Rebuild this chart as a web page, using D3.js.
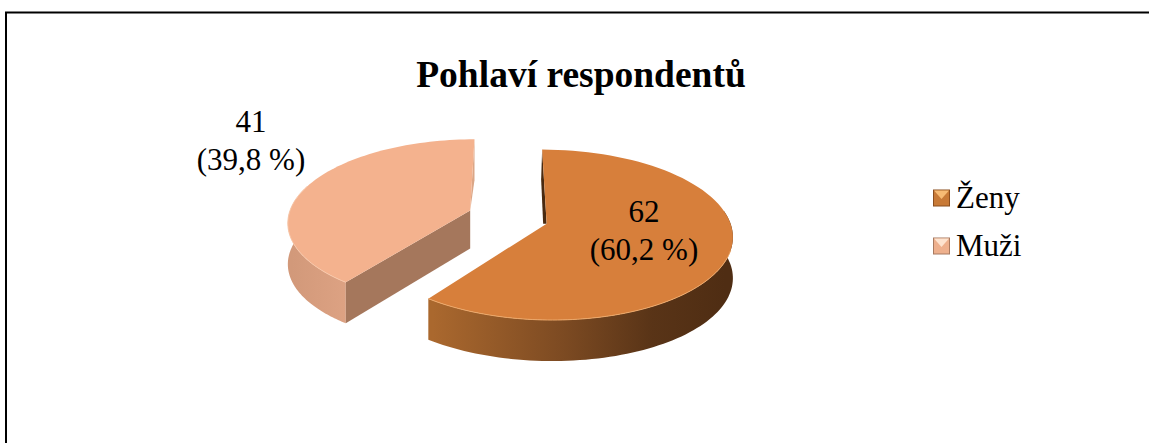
<!DOCTYPE html>
<html>
<head>
<meta charset="utf-8">
<script src="https://cdn.jsdelivr.net/npm/d3@7"></script>
<style>
    html, body { margin: 0; padding: 0; background: #fff; }
    svg { display: block; }
    text { font-family: "Liberation Serif", serif; fill: #000; }
</style>
</head>
<body>
<div id="chart"></div>
<script>
// data
var categories = ['Ženy', 'Muži'];
var counts = [62, 41];
var shares = ['60,2 %', '39,8 %'];
var chartTitle = 'Pohlaví respondentů';

// colours
var topColors = ['#d77f3b', '#f4b28e'];
var rimColors = ['#eda869', '#f9c9ab'];
var cutColors = ['#4a2a10', '#a5775c'];
var backColors = ['#4a2a10', '#dba686'];
var wallStops = [
    [['0%', '#aa682e'], ['45%', '#7c4a22'], ['75%', '#593417'], ['100%', '#4f2d13']],
    [['0%', '#d2997a'], ['100%', '#dda283']]
];
var wallRanges = [[433, 725], [292, 347]];

// layout
var width = 1149, height = 443;
var depth = 41, tilt = 0.13;
var explodeU = [0.21, -0.21], explodeV = [-0.08, 0.08];
// plane units to pixels
var xScale = d3.scaleLinear().domain([-1, 1]).range([326, 690]);
var yScale = d3.scaleLinear().domain([-1, 1]).range([299, 135]);

var svg = d3.select('#chart').append('svg')
    .attr('width', width)
    .attr('height', height);

var defs = svg.append('defs');
wallStops.forEach(function(stops, i) {
    var grad = defs.append('linearGradient')
        .attr('id', 'wall' + i)
        .attr('gradientUnits', 'userSpaceOnUse')
        .attr('x1', wallRanges[i][0]).attr('x2', wallRanges[i][1])
        .attr('y1', 0).attr('y2', 0);
    stops.forEach(function(s) {
        grad.append('stop').attr('offset', s[0]).attr('stop-color', s[1]);
    });
});

// frame, only left and top are visible
svg.append('path')
    .attr('d', 'M6,' + height + 'V12.5H' + width)
    .attr('fill', 'none')
    .attr('stroke', '#000')
    .attr('stroke-width', 2);

// point on the tilted pie plane -> screen, with a little perspective
function project(i, angle, r) {
    var u = explodeU[i] + r * Math.sin(angle),
        v = explodeV[i] + r * Math.cos(angle),
        w = 1 + tilt * v;
    return [xScale(u / w), yScale(v / w)];
}

function arcPoints(i, a0, a1) {
    return d3.range(0, 81).map(function(k) {
        return project(i, a0 + (a1 - a0) * k / 80, 1);
    });
}

function drop(p, d) { return [p[0], p[1] + d]; }

var line = d3.line();
var slices = d3.pie().sort(null)(counts);

slices.forEach(function(d, i) {
    var g = svg.append('g').attr('class', 'slice');
    var apex = project(i, 0, 0);
    var startPt = project(i, d.startAngle, 1);
    var endPt = project(i, d.endAngle, 1);

    // outer wall, only the front part shows
    var a0 = i == 0 ? Math.PI * 0.45 : d.startAngle;
    var a1 = i == 0 ? d.endAngle : Math.PI * 1.55;
    var rim = arcPoints(i, a0, a1);
    var wall = rim.concat(rim.slice().reverse().map(function(p) { return drop(p, depth); }));
    g.append('path')
        .attr('d', line(wall) + 'Z')
        .attr('fill', 'url(#wall' + i + ')');

    if (i == 0) {
        // dark sliver behind the first cut
        g.append('path')
            .attr('d', line([startPt, apex, [startPt[0] + 1, apex[1]], [startPt[0] - 1, startPt[1] + 30]]) + 'Z')
            .attr('fill', backColors[i]);
    } else {
        // far cut sliver and the big cut face
        g.append('path')
            .attr('d', line([endPt, drop(endPt, depth), apex]) + 'Z')
            .attr('fill', backColors[i]);
        g.append('path')
            .attr('d', line([apex, startPt, drop(startPt, depth), drop(apex, depth - 3)]) + 'Z')
            .attr('fill', cutColors[i]);
    }

    // top surface
    var outline = [apex].concat(arcPoints(i, d.startAngle, d.endAngle));
    g.append('path')
        .attr('d', line(outline) + 'Z')
        .attr('fill', topColors[i]);

    // lighter bevel along the front rim
    g.append('path')
        .attr('d', line(arcPoints(i, i == 0 ? Math.PI * 0.6 : d.startAngle, i == 0 ? d.endAngle : Math.PI * 1.6)))
        .attr('fill', 'none')
        .attr('stroke', rimColors[i])
        .attr('stroke-width', 1);
});

function label(x, y, size, txt, anchor, bold) {
    svg.append('text')
        .attr('x', x)
        .attr('y', y)
        .attr('text-anchor', anchor)
        .attr('font-size', size)
        .attr('font-weight', bold ? 'bold' : 'normal')
        .text(txt);
}

label(581, 87, 37.5, chartTitle, 'middle', true);

var labelX = [644, 251], labelY = [222, 132];
counts.forEach(function(c, i) {
    label(labelX[i], labelY[i], 31, c, 'middle');
    label(labelX[i], labelY[i] + 38, 31, '(' + shares[i] + ')', 'middle');
});

// legend
var legendY = d3.scalePoint().domain(categories).range([198, 246]);
var markerStops = [['#f7bb74', '#c87a37', '#8a4e1f'], ['#fde3cf', '#eeb08d', '#a87a60']];
categories.forEach(function(name, i) {
    var y = legendY(name), s = 8.5;
    var m = svg.append('g').attr('transform', 'translate(941.5,' + y + ')');
    m.append('rect').attr('x', -s).attr('y', -s).attr('width', 2 * s).attr('height', 2 * s)
        .attr('fill', markerStops[i][2]);
    m.append('rect').attr('x', -s + 1).attr('y', -s + 1).attr('width', 2 * s - 2).attr('height', 2 * s - 2)
        .attr('fill', markerStops[i][1]);
    m.append('path')
        .attr('d', line([[-s + 1, -s + 1], [s - 1, -s + 1], [0, 1]]) + 'Z')
        .attr('fill', markerStops[i][0]);
    label(956, y + 10, 31, name, 'start');
});
</script>
</body>
</html>
